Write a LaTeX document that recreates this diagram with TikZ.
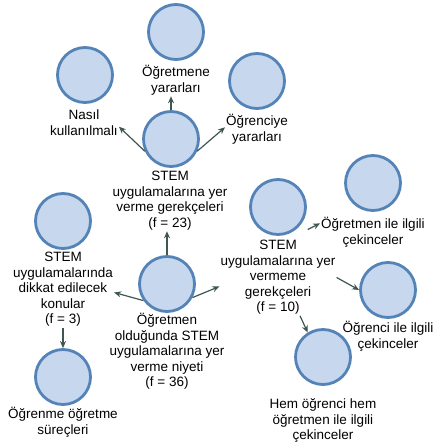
\documentclass[tikz,border=0pt]{standalone}
\usepackage{fontspec}
\setmainfont{Liberation Sans}
\usetikzlibrary{arrows.meta}
\definecolor{dolgu}{HTML}{C6D7EE}
\definecolor{kenar}{HTML}{5483B7}
\definecolor{okrenk}{HTML}{3E5753}
\begin{document}
\begin{tikzpicture}[x=1pt,y=-1pt,
  kavram/.style={circle,draw=kenar,fill=dolgu,line width=2.8pt,minimum size=55pt,inner sep=0pt},
  etiket/.style={align=center,anchor=base,inner sep=1pt,font=\fontsize{13.5}{15.5}\selectfont},
  ok/.style={draw=okrenk,line width=1.2pt,-{Stealth[length=7pt,width=6pt]}}]
\useasboundingbox (0,0) rectangle (435,446);
\node[kavram] (ogretmene) at (176,32) {}; \node[etiket] (ogretmene-t) at (176,92.3) {Öğretmene\\yararları};
\node[kavram] (nasil) at (85,75) {}; \node[etiket] (nasil-t) at (84,135.3) {Nasıl\\kullanılmalı};
\node[kavram] (ogrenciye) at (257,81) {}; \node[etiket] (ogrenciye-t) at (257,141.3) {Öğrenciye\\yararları};
\node[kavram] (verme) at (171,139) {}; \node[etiket] (verme-t) at (170,227.3) {STEM\\uygulamalarına yer\\verme gerekçeleri\\(f = 23)};
\node[kavram] (dikkat) at (63,221) {}; \node[etiket] (dikkat-t) at (63,323.8) {STEM\\uygulamalarında\\dikkat edilecek\\konular\\(f = 3)};
\node[kavram] (niyet) at (167,284) {}; \node[etiket] (niyet-t) at (167,386.8) {Öğretmen\\olduğunda STEM\\uygulamalarına yer\\verme niyeti\\(f = 36)};
\node[kavram] (ogrenme) at (63,377) {}; \node[etiket] (ogrenme-t) at (63,434.3) {Öğrenme öğretme\\süreçleri};
\node[kavram] (vermeme) at (278,207) {}; \node[etiket] (vermeme-t) at (278,311.8) {STEM\\uygulamalarına yer\\vermeme\\gerekçeleri\\(f = 10)};
\node[kavram] (ogretmen) at (373,183) {}; \node[etiket] (ogretmen-t) at (373,244.3) {Öğretmen ile ilgili\\çekinceler};
\node[kavram] (ogrenci) at (388,290) {}; \node[etiket] (ogrenci-t) at (388,348.3) {Öğrenci ile ilgili\\çekinceler};
\node[kavram] (hem) at (323,357) {}; \node[etiket] (hem-t) at (323,439.8) {Hem öğrenci hem\\öğretmen ile ilgili\\çekinceler};
\draw[ok] (verme.north) -- (verme.north |- ogretmene-t.south);
\draw[ok] (verme.205) -- ([yshift=-4pt]nasil-t.east);
\draw[ok] (verme.335) -- ([yshift=2pt]ogrenciye-t.west);
\draw[ok] (niyet.north) -- (niyet.north |- verme-t.south);
\draw[ok] (niyet.215) -- ([yshift=-3pt]dikkat-t.east);
\draw[ok] (niyet.332) -- ([yshift=-9pt]vermeme-t.west);
\draw[ok] (dikkat-t.south) -- (ogrenme.north);
\draw[ok] ([xshift=6pt,yshift=-6pt]vermeme.325) -- ([yshift=9pt]ogretmen-t.west);
\draw[ok] (vermeme-t.east) -- (ogrenci.west);
\draw[ok] ([xshift=22pt]vermeme-t.south) -- (hem.122);
\end{tikzpicture}
\end{document}
